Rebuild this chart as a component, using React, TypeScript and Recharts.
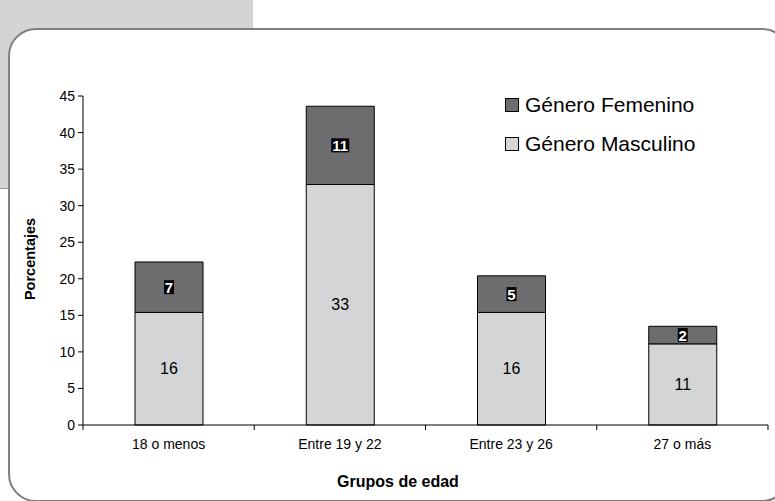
import React from 'react';
import { BarChart, Bar, XAxis, YAxis, LabelList } from 'recharts';

const grupos = ['18 o menos', 'Entre 19 y 22', 'Entre 23 y 26', '27 o más'];
const masculino = [15.4, 32.9, 15.4, 11.1];
const femenino = [6.9, 10.7, 5.0, 2.4];
const mascLabels = ['16', '33', '16', '11'];
const femLabels = ['7', '11', '5', '2'];
const yTicks = [0, 5, 10, 15, 20, 25, 30, 35, 40, 45];

const data = grupos.map((g, i) => ({
  grupo: g,
  masc: masculino[i],
  fem: femenino[i],
  mascLabel: mascLabels[i],
  femLabel: femLabels[i],
}));

const FONT = "'Liberation Sans', Arial, sans-serif";
const LIGHT = '#d4d5d7';
const DARK = '#6d6d6f';

const legendItems = [
  { name: 'Género Femenino', color: DARK },
  { name: 'Género Masculino', color: LIGHT },
];

const XTick = (props: any) => {
  const { x, y, payload, index } = props;
  const half = payload.offset ?? 85.6;
  return (
    <g>
      {index === 0 && <line x1={x - half} y1={y} x2={x - half} y2={y + 5} stroke="#000" />}
      <line x1={x + half} y1={y} x2={x + half} y2={y + 5} stroke="#000" />
      <text x={x} y={y + 24} textAnchor="middle" fontSize={14} fill="#000" style={{ fontFamily: FONT }}>
        {payload.value}
      </text>
    </g>
  );
};

const MascLabel = (props: any) => {
  const { x, y, width, height, value } = props;
  return (
    <text x={x + width / 2} y={y + height / 2} textAnchor="middle" dominantBaseline="central"
      fontSize={16} fill="#000" style={{ fontFamily: FONT }}>
      {value}
    </text>
  );
};

const FemLabel = (props: any) => {
  const { x, y, width, height, value } = props;
  const cx = x + width / 2;
  const cy = y + height / 2;
  const w = String(value).length * 8 + 2;
  return (
    <g>
      <rect x={cx - w / 2} y={cy - 7} width={w} height={14} fill="#000" />
      <text x={cx} y={cy} textAnchor="middle" dominantBaseline="central"
        fontSize={15} fontWeight="bold" fill="#fff" style={{ fontFamily: FONT }}>
        {value}
      </text>
    </g>
  );
};

export default function App() {
  return (
    <div style={{ position: 'absolute', left: 0, top: 0, width: 775, height: 501, overflow: 'hidden', background: '#fff', fontFamily: FONT }}>
      <div style={{ position: 'absolute', left: 0, top: 0, width: 253, height: 188, background: '#d3d4d6', borderBottom: '1px solid #9a9a9a' }} />
      <div style={{ position: 'absolute', left: 8, top: 28, width: 778, height: 470, border: '2px solid #7f7f7f', borderRadius: 28, background: '#fff' }} />
      <div style={{ position: 'absolute', left: 0, top: 0 }}>
        <BarChart width={775} height={501} data={data} margin={{ top: 96, right: 7, bottom: 46, left: 43 }}
          style={{ fontFamily: FONT }}>
          <XAxis dataKey="grupo" tick={<XTick />} tickLine={false} tickSize={0} tickMargin={0} height={30}
            stroke="#000" interval={0}
            label={{
              content: () => (
                <text x={398} y={487} textAnchor="middle" fontSize={16} fontWeight="bold" fill="#000" style={{ fontFamily: FONT }}>
                  Grupos de edad
                </text>
              ),
            }} />
          <YAxis domain={[0, 45]} ticks={yTicks} width={40} stroke="#000" tickSize={5} tickMargin={3}
            tick={{ fontSize: 14, fill: '#000', fontFamily: FONT }}
            label={{
              content: () => (
                <text x={35} y={259} transform="rotate(-90 35 259)" textAnchor="middle" fontSize={14.5}
                  fontWeight="bold" fill="#000" style={{ fontFamily: FONT }}>
                  Porcentajes
                </text>
              ),
            }} />
          <Bar dataKey="masc" stackId="a" fill={LIGHT} stroke="#000" strokeWidth={1} barSize={68} isAnimationActive={false}>
            <LabelList dataKey="mascLabel" content={<MascLabel />} />
          </Bar>
          <Bar dataKey="fem" stackId="a" fill={DARK} stroke="#000" strokeWidth={1} barSize={68} isAnimationActive={false}>
            <LabelList dataKey="femLabel" content={<FemLabel />} />
          </Bar>
        </BarChart>
      </div>
      <div style={{ position: 'absolute', left: 505, top: 85 }}>
        {legendItems.map((item) => (
          <div key={item.name} style={{ display: 'flex', alignItems: 'center', height: 39 }}>
            <span style={{ width: 12, height: 12, background: item.color, border: '1px solid #000', marginRight: 6 }} />
            <span style={{ fontSize: 21, color: '#000' }}>{item.name}</span>
          </div>
        ))}
      </div>
    </div>
  );
}
